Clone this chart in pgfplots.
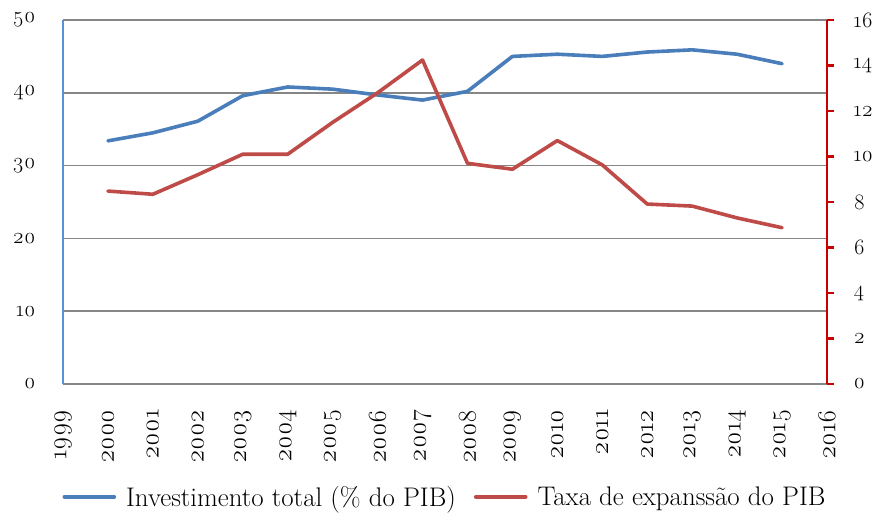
\documentclass[border=0pt]{standalone}
\usepackage{fontspec}
\setmainfont{Latin Modern Roman}[Numbers=OldStyle]
\usepackage{pgfplots}
\pgfplotsset{compat=1.18}
\definecolor{bl}{HTML}{4A7EBB}
\definecolor{rd}{HTML}{BE4B48}
\definecolor{blax}{HTML}{5B8FD8}
\definecolor{rdax}{HTML}{C80000}
\definecolor{gr}{HTML}{868686}
\begin{document}
\begin{tikzpicture}
\useasboundingbox (-63bp,-132bp) rectangle (820bp,384bp);
\begin{axis}[
  at={(0,0)}, anchor=south west,
  scale only axis, width=764bp, height=364bp,
  xmin=1999, xmax=2016, ymin=0, ymax=50,
  axis x line*=bottom, axis y line*=left,
  x axis line style={gr, line width=1.5pt, -},
  y axis line style={blax, line width=2.2pt, -},
  xtick={1999,...,2016},
  xticklabels={1999,2000,2001,2002,2003,2004,2005,2006,2007,2008,2009,2010,2011,2012,2013,2014,2015,2016},
  x tick label style={rotate=90, anchor=east, font=\fontsize{26}{26}\selectfont},
  xticklabel shift=22bp,
  ytick={0,10,...,50},
  y tick label style={font=\fontsize{22}{22}\selectfont},
  yticklabel shift=24bp,
  major tick length=0pt,
  ymajorgrids, grid style={gr, line width=1.5pt},
  /pgf/number format/assume math mode=true,
  legend style={at={(0.5,-0.31)}, anchor=center, draw=none, legend columns=2,
    font=\fontsize{27}{27}\selectfont, inner sep=0pt,
    /tikz/every odd column/.append style={column sep=8bp},
    /tikz/every even column/.append style={column sep=16bp}},
  legend image code/.code={\draw[#1] (0bp,0bp) -- (50bp,0bp);},
]
\addplot[bl, line width=3.6bp, line cap=round, line join=round] coordinates {
(2000,33.4) (2001,34.5) (2002,36.1) (2003,39.6) (2004,40.8) (2005,40.5) (2006,39.7) (2007,39.0)
(2008,40.2) (2009,45.0) (2010,45.3) (2011,45.0) (2012,45.6) (2013,45.9) (2014,45.3) (2015,44.0)};
\addlegendentry{Investimento total (\% do PIB)}
\addlegendimage{rd, line width=3.6bp, line cap=round}
\addlegendentry{Taxa de expanssão do PIB}
\end{axis}
\begin{axis}[
  at={(0,0)}, anchor=south west,
  scale only axis, width=764bp, height=364bp,
  xmin=1999, xmax=2016, ymin=0, ymax=16,
  axis x line=none, axis y line*=right,
  y axis line style={rdax, line width=2.2pt, -},
  ytick={0,2,...,16},
  y tick label style={font=\fontsize{22}{22}\selectfont},
  yticklabel shift=16bp,
  ytick style={rdax, line width=2.2pt},
  tick align=outside, major tick length=7bp,
  /pgf/number format/assume math mode=true,
]
\addplot[rd, line width=3.6bp, line cap=round, line join=round] coordinates {
(2000,8.48) (2001,8.34) (2002,9.2) (2003,10.1) (2004,10.1) (2005,11.5) (2006,12.8) (2007,14.24)
(2008,9.7) (2009,9.44) (2010,10.7) (2011,9.63) (2012,7.91) (2013,7.82) (2014,7.3) (2015,6.87)};
\end{axis}
\end{tikzpicture}
\end{document}
